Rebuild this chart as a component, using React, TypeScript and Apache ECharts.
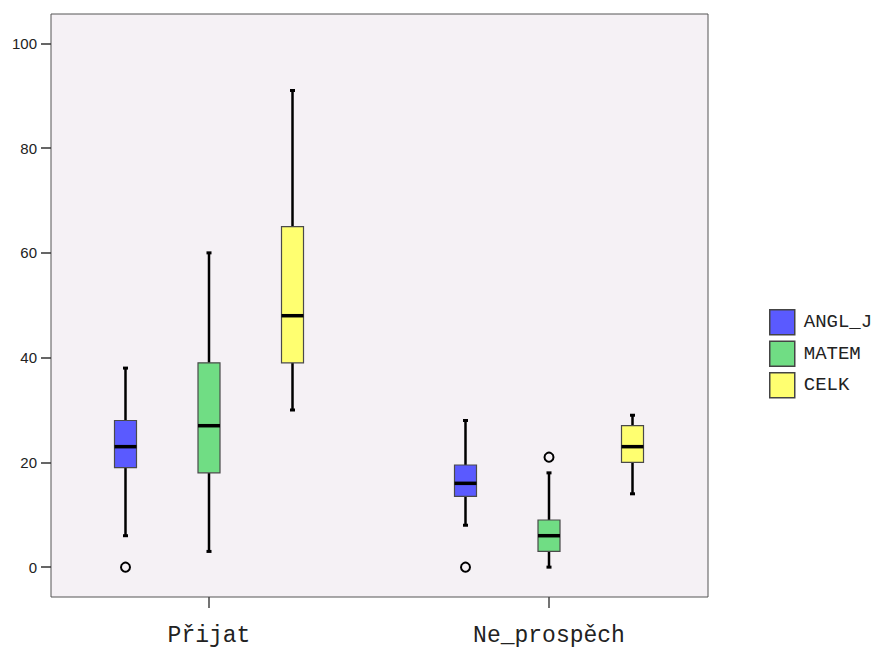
import React, { useEffect, useRef } from "react";
import * as echarts from "echarts";

// Categories and series
const categories = ["Přijat", "Ne_prospěch"];
const seriesNames = ["ANGL_J", "MATEM", "CELK"];
const seriesColors = ["#5A5AFF", "#70DD84", "#FFFF70"];

// Five-number summaries [min, Q1, median, Q3, max] per category
const anglJ = [
  [6, 19, 23, 28, 38],
  [8, 13.5, 16, 19.5, 28],
];
const matem = [
  [3, 18, 27, 39, 60],
  [0, 3, 6, 9, 18],
];
const celk = [
  [30, 39, 48, 65, 91],
  [14, 20, 23, 27, 29],
];

// Outliers [categoryIndex, value]
const anglJOutliers = [
  [0, 0],
  [1, 0],
];
const matemOutliers = [[1, 21]];
const celkOutliers: number[][] = [];

// Y axis tick values
const yTicks = [0, 20, 40, 60, 80, 100];

const boxSets = [anglJ, matem, celk];
const outlierSets = [anglJOutliers, matemOutliers, celkOutliers];

const SLOT_FRAC = 0.2456;
const HALF_BOX = 11;

export default function App() {
  const ref = useRef<HTMLDivElement>(null);

  useEffect(() => {
    if (!ref.current) return;
    const chart = echarts.init(ref.current, undefined, { renderer: "svg" });

    const boxSeries = boxSets.map((set, si) => {
      const slot = si - 1;
      const color = seriesColors[si];
      return {
        name: seriesNames[si],
        type: "custom",
        xAxisIndex: 1,
        yAxisIndex: 1,
        itemStyle: { color },
        encode: { x: 0, y: [1, 2, 3, 4, 5] },
        data: set.map((v, ci) => [ci, ...v]),
        renderItem: (params: any, api: any) => {
          const cat = api.value(0);
          const bandW = api.size([1, 0])[0];
          const cx = api.coord([cat, 0])[0] + slot * bandW * SLOT_FRAC;
          const y = (i: number) => api.coord([cat, api.value(i)])[1];
          const yMin = y(1);
          const yQ1 = y(2);
          const yMed = y(3);
          const yQ3 = y(4);
          const yMax = y(5);
          const whisk = { stroke: "#000", lineWidth: 2.5 };
          const cap = { stroke: "#000", lineWidth: 3 };
          return {
            type: "group",
            children: [
              { type: "line", shape: { x1: cx, y1: yMax, x2: cx, y2: yQ3 }, style: whisk },
              { type: "line", shape: { x1: cx, y1: yQ1, x2: cx, y2: yMin }, style: whisk },
              { type: "line", shape: { x1: cx - 2.5, y1: yMax, x2: cx + 2.5, y2: yMax }, style: cap },
              { type: "line", shape: { x1: cx - 2.5, y1: yMin, x2: cx + 2.5, y2: yMin }, style: cap },
              {
                type: "rect",
                shape: { x: cx - HALF_BOX, y: yQ3, width: HALF_BOX * 2, height: yQ1 - yQ3 },
                style: { fill: color, stroke: "#4a4a4a", lineWidth: 1.2 },
              },
              {
                type: "line",
                shape: { x1: cx - HALF_BOX, y1: yMed, x2: cx + HALF_BOX, y2: yMed },
                style: { stroke: "#000", lineWidth: 3.5 },
              },
            ],
          };
        },
      };
    });

    const outlierSeries = outlierSets.map((set, si) => {
      const slot = si - 1;
      return {
        name: seriesNames[si],
        type: "custom",
        xAxisIndex: 1,
        yAxisIndex: 1,
        itemStyle: { color: seriesColors[si] },
        encode: { x: 0, y: 1 },
        data: set,
        renderItem: (params: any, api: any) => {
          const cat = api.value(0);
          const bandW = api.size([1, 0])[0];
          const p = api.coord([cat, api.value(1)]);
          return {
            type: "circle",
            shape: { cx: p[0] + slot * bandW * SLOT_FRAC, cy: p[1], r: 4.5 },
            style: { fill: "none", stroke: "#000", lineWidth: 2 },
          };
        },
      };
    });

    const option: any = {
      animation: false,
      backgroundColor: "#ffffff",
      grid: [
        {
          left: 51,
          top: 14,
          width: 657,
          height: 583,
          show: true,
          backgroundColor: "#F5F1F5",
          borderColor: "#555",
          borderWidth: 1,
        },
        { left: 39, top: 14, width: 680, height: 583 },
      ],
      xAxis: [
        { gridIndex: 0, type: "value", show: false, min: 0, max: 1 },
        {
          gridIndex: 1,
          type: "category",
          data: categories,
          axisLine: { show: false, onZero: false },
          axisTick: { show: true, alignWithLabel: true, length: 11, lineStyle: { color: "#444", width: 1.5 } },
          axisLabel: {
            fontFamily: "Liberation Mono",
            fontSize: 23,
            color: "#222",
            margin: 27,
          },
          splitLine: { show: false },
        },
      ],
      yAxis: [
        {
          gridIndex: 0,
          type: "value",
          min: -5.7,
          max: 105.6,
          axisLine: { show: false },
          axisTick: {
            show: true,
            length: 10,
            customValues: yTicks,
            lineStyle: { color: "#333", width: 1.5 },
          },
          axisLabel: {
            showMinLabel: false,
            showMaxLabel: false,
            fontFamily: "Liberation Sans",
            fontSize: 15,
            color: "#222",
            margin: 14,
          },
          splitLine: { show: false },
        },
        { gridIndex: 1, type: "value", min: -5.7, max: 105.6, show: false },
      ],
      legend: {
        orient: "vertical",
        left: 769,
        top: 309,
        padding: 0,
        itemWidth: 25,
        itemHeight: 25,
        itemGap: 5,
        icon: "rect",
        selectedMode: false,
        data: seriesNames,
        itemStyle: { borderColor: "#444", borderWidth: 1.5 },
        textStyle: {
          fontFamily: "Liberation Mono",
          fontSize: 19,
          color: "#222",
          padding: [0, 0, 0, 4],
        },
      },
      series: [...boxSeries, ...outlierSeries],
    };

    chart.setOption(option);
    return () => chart.dispose();
  }, []);

  return (
    <div
      ref={ref}
      style={{ position: "fixed", left: 0, top: 0, width: 877, height: 647 }}
    />
  );
}
